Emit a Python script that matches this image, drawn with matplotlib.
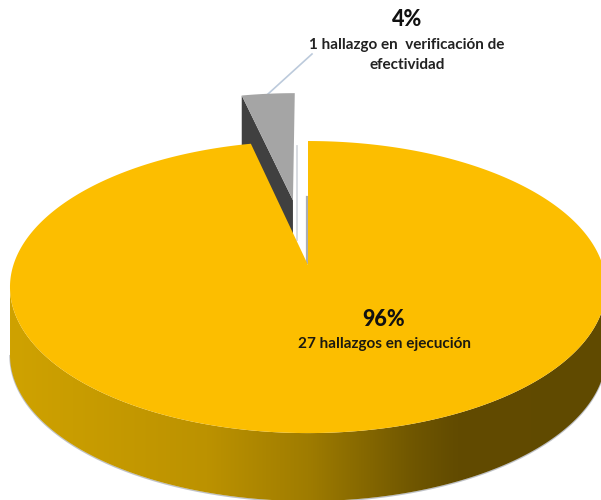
import numpy as np
import matplotlib
matplotlib.use("Agg")
import matplotlib.pyplot as plt
from matplotlib.colors import LinearSegmentedColormap
from matplotlib.patches import Polygon

labels = ["27 hallazgos en ejecución", "1 hallazgo en  verificación de\nefectividad"]
values = [27, 1]
percent_labels = ["96%", "4%"]
colors = ["#FCBE00", "#A5A5A5"]

CX, CY, RX, RY, K, DEPTH = 308.0, 265.0, 294.6, 142.7, 0.151, 68.0
EXPLODE = 0.49


def project(X, Y):
    w = 1 + K * Y
    return CX + RX * X / w, CY - RY * Y / w


fig = plt.figure(figsize=(6.01, 5.0), dpi=100)
ax = fig.add_axes([0, 0, 1, 1])
ax.set_xlim(0, 601)
ax.set_ylim(500, 0)
ax.axis("off")

total = sum(values)
sweep_main = 2 * np.pi * values[0] / total
sweep_small = 2 * np.pi * values[1] / total

# exploded small slice: it starts where the large slice ends
mid = sweep_main + sweep_small / 2
ox, oy = EXPLODE * np.sin(mid), EXPLODE * np.cos(mid)
t_small = np.linspace(sweep_main, 2 * np.pi, 30)
xs, ys = project(ox + 0.985 * np.sin(t_small), oy + 0.985 * np.cos(t_small))
apex_x, apex_y = project(ox, oy)
dark = [(xs[0], ys[0]), (apex_x, apex_y), (apex_x, apex_y + DEPTH), (xs[0], ys[0] + DEPTH)]
ax.add_patch(Polygon(dark, closed=True, fc="#404040", ec="none", zorder=2))
ax.add_patch(Polygon(np.r_[[[apex_x, apex_y]], np.c_[xs, ys]], closed=True,
                     fc=colors[1], ec="none", zorder=3))

# pale edges beside the gap and the leader line
ax.plot([297, 297], [146, 240], color="#d5d9de", lw=1.3, zorder=1.5)
ax.plot([307, 307], [197, 263], color="#a9adb3", lw=1.6, zorder=1.5)
ax.plot([268, 312], [94, 54], color="#bccadb", lw=1.2, zorder=1)

# side wall of the large slice
t_side = np.linspace(np.pi / 2 + np.arcsin(K), 3 * np.pi / 2 - np.arcsin(K), 240)
sx, sy = project(np.sin(t_side), np.cos(t_side))
side = np.r_[np.c_[sx, sy], np.c_[sx[::-1], sy[::-1] + DEPTH]]
ax.plot(sx, sy + DEPTH + 0.6, color="#a4a8b0", lw=1.0, alpha=0.7, zorder=3.5)
cmap = LinearSegmentedColormap.from_list(
    "wall",
    [(0.0, "#CFA200"), (0.33, "#BC9200"), (0.5, "#9F7C00"), (0.68, "#6F5600"), (0.75, "#624B00"), (1.0, "#604A00")],
)
im = ax.imshow(np.linspace(0, 1, 256)[None, :], extent=[10, 606, 520, 280], cmap=cmap,
               aspect="auto", zorder=4)
poly = Polygon(side, closed=True, fc="none", ec="none", zorder=4)
ax.add_patch(poly)
im.set_clip_path(poly)
ax.set_xlim(0, 601)
ax.set_ylim(500, 0)

# top of the large slice
t_main = np.linspace(0, sweep_main, 400)
mx, my = project(np.sin(t_main), np.cos(t_main))
ax.add_patch(Polygon(np.r_[[[CX, CY]], np.c_[mx, my]], closed=True,
                     fc=colors[0], ec="none", zorder=5))

font = "Lato"
ax.text(384, 320, percent_labels[0], ha="center", va="center", family=font, weight="black",
        fontsize=15.5, color="#111111", zorder=6)
ax.text(384, 344, labels[0], ha="center", va="center", family=font, weight="bold",
        fontsize=11, color="#1c1a10", zorder=6)
ax.text(407, 20, percent_labels[1], ha="center", va="center", family=font, weight="black",
        fontsize=15.5, color="#111111", zorder=6)
ax.text(407, 55, labels[1], ha="center", va="center", family=font, weight="bold",
        fontsize=11, linespacing=1.55, color="#222222", zorder=6)

fig.savefig("out.png", dpi=100, facecolor="white")
